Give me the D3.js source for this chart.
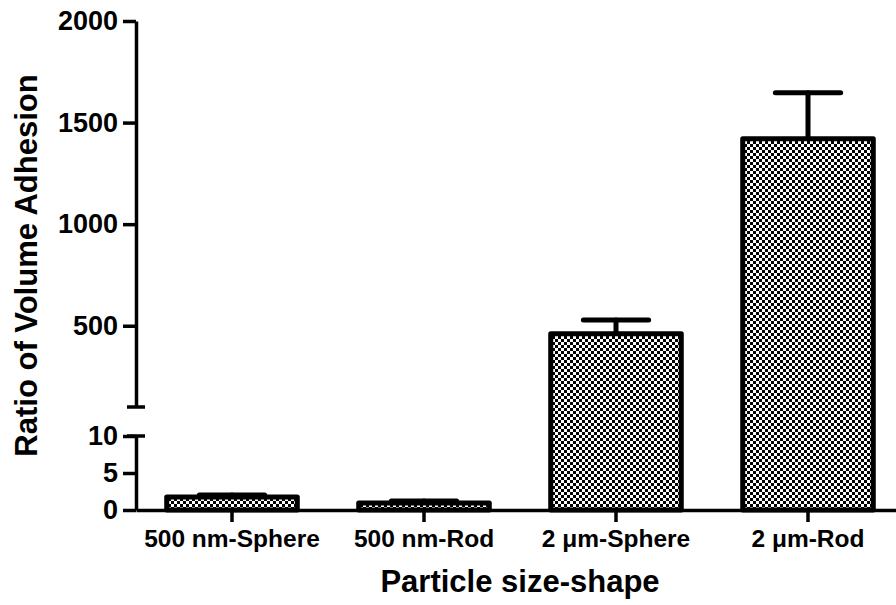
<!DOCTYPE html>
<html><head><meta charset="utf-8">
<script src="https://cdn.jsdelivr.net/npm/d3@7"></script>
<style>
html,body{margin:0;padding:0;background:#fff;}
svg text{font-family:"Liberation Sans",Arial,sans-serif;font-weight:bold;fill:#000;}
</style></head>
<body>
<svg id="chart" width="896" height="605"></svg>
<script>
const categories = ["500 nm-Sphere", "500 nm-Rod", "2 \u03bcm-Sphere", "2 \u03bcm-Rod"];
const means = [1.75, 0.95, 460, 1420];
const sds = [0.28, 0.25, 68, 227];
const upperTicks = [500, 1000, 1500, 2000];
const lowerTicks = [0, 5, 10];
const upperDomain = [100, 2000];
const lowerDomain = [0, 10];
const yTitle = "Ratio of Volume Adhesion";
const xTitle = "Particle size-shape";

const svg = d3.select("#chart");
const axisX = 136;

const x = d3.scaleBand().domain(categories).range([136, 904]).paddingInner(0.32).paddingOuter(0.16);
const yUp = d3.scaleLinear().domain(upperDomain).range([407, 21]);
const yLow = d3.scaleLinear().domain(lowerDomain).range([510, 436]);
const yv = v => v > lowerDomain[1] ? yUp(v) : yLow(v);

const defs = svg.append("defs");
const pat = defs.append("pattern").attr("id", "checker").attr("patternUnits", "userSpaceOnUse")
  .attr("width", 6).attr("height", 6);
pat.append("rect").attr("width", 6).attr("height", 6).attr("fill", "#fff");
pat.append("rect").attr("x", 0).attr("y", 0).attr("width", 3).attr("height", 3).attr("fill", "#000");
pat.append("rect").attr("x", 3).attr("y", 3).attr("width", 3).attr("height", 3).attr("fill", "#000");

const data = categories.map((c, i) => ({c, m: means[i], s: sds[i]}));
const bw = x.bandwidth();

// error bars
const eb = svg.append("g").attr("stroke", "#000").attr("stroke-width", 5).attr("stroke-linecap", "round");
data.forEach(d => {
  const cx = x(d.c) + bw / 2;
  eb.append("line").attr("x1", cx).attr("x2", cx).attr("y1", yv(d.m)).attr("y2", yv(d.m + d.s));
  eb.append("line").attr("x1", cx - bw / 4).attr("x2", cx + bw / 4).attr("y1", yv(d.m + d.s)).attr("y2", yv(d.m + d.s));
});

// bars
svg.append("g").selectAll("rect").data(data).join("rect")
  .attr("x", d => x(d.c)).attr("width", bw)
  .attr("y", d => yv(d.m)).attr("height", d => yLow(0) - yv(d.m))
  .attr("fill", "url(#checker)").attr("stroke", "#000").attr("stroke-width", 5)
  .attr("stroke-linejoin", "round");

// y axes
const fmt = d3.format("d");
const gUp = svg.append("g").attr("transform", `translate(${axisX},0)`)
  .call(d3.axisLeft(yUp).tickValues(upperTicks).tickFormat(fmt).tickSize(13).tickSizeOuter(0).tickPadding(5));
const gLow = svg.append("g").attr("transform", `translate(${axisX},0)`)
  .call(d3.axisLeft(yLow).tickValues(lowerTicks).tickFormat(fmt).tickSize(13).tickSizeOuter(0).tickPadding(5));
[gUp, gLow].forEach(g => {
  g.selectAll("path,line").attr("stroke", "#000").attr("stroke-width", 3.5);
  g.selectAll("text").attr("font-size", 27).attr("font-family", "Liberation Sans, Arial, sans-serif").attr("font-weight", "bold");
});
// break caps
svg.append("g").attr("stroke", "#000").attr("stroke-width", 3.5)
  .selectAll("line").data([yUp(upperDomain[0]), yLow(lowerDomain[1])]).join("line")
  .attr("x1", axisX - 9).attr("x2", axisX + 9).attr("y1", d => d).attr("y2", d => d);

// x axis
const gx = svg.append("g").attr("transform", `translate(0,${yLow(0)})`)
  .call(d3.axisBottom(x).tickSize(12).tickSizeOuter(0).tickPadding(8));
gx.selectAll("path,line").attr("stroke", "#000").attr("stroke-width", 3.5);
gx.selectAll("text").attr("font-size", 24.5).attr("font-family", "Liberation Sans, Arial, sans-serif").attr("font-weight", "bold");

// titles
svg.append("text").attr("transform", `translate(37,${(yUp(2000) + yLow(0)) / 2}) rotate(-90)`)
  .attr("text-anchor", "middle").attr("font-size", 31).text(yTitle);
svg.append("text").attr("x", (136 + 904) / 2).attr("y", 592)
  .attr("text-anchor", "middle").attr("font-size", 31).text(xTitle);
</script>
</body></html>
